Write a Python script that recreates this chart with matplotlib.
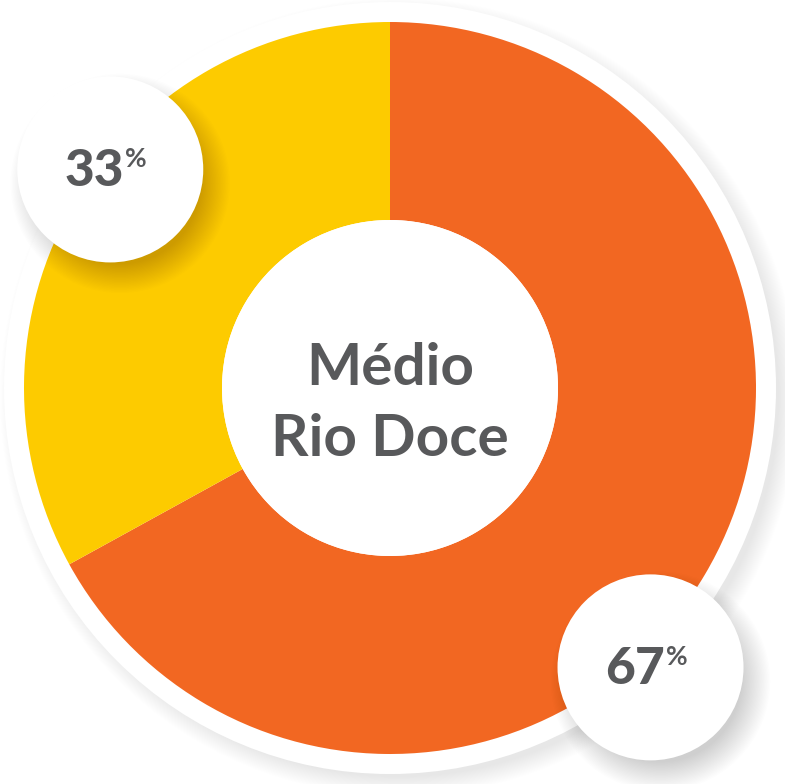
import matplotlib
matplotlib.use("Agg")
import matplotlib.pyplot as plt
from matplotlib.patches import Circle
import numpy as np

# Data
categories = ["Médio Rio Doce - A", "Médio Rio Doce - B"]
values = [67, 33]
labels = ["67", "33"]
colors = ["#F26722", "#FDCB00"]
center_title = "Médio\nRio Doce"

W, H = 785, 784
fig = plt.figure(figsize=(W / 100, H / 100), dpi=100)
ax = fig.add_axes([0, 0, 1, 1])

cx, cy = 390, H - 388
R = 366
R_in = 168
text_color = "#58595B"
font = "Lato"

def shadow(x, y, r, dx, dy, spread, alpha, z, color="black", n=24):
    for i in range(n):
        rr = r + spread * (i / n)
        ax.add_patch(Circle((x + dx, y + dy), rr, facecolor=color,
                            edgecolor="none", alpha=alpha / n, zorder=z))

# big white disc with soft shadow
shadow(cx, cy, R + 14, 9, -9, 20, 0.10, 0)
ax.add_patch(Circle((cx, cy), R + 20, facecolor="white", edgecolor="none", zorder=1))

# donut
wedges, _ = ax.pie(values, colors=colors, startangle=90, counterclock=False,
                   radius=R, center=(cx, cy),
                   wedgeprops=dict(width=R - R_in, edgecolor="none"))
for w in wedges:
    w.set_zorder(2)
ax.set_xlim(0, W)
ax.set_ylim(0, H)
ax.set_aspect("equal")
ax.axis("off")

ax.add_patch(Circle((cx, cy), R_in, facecolor="white", edgecolor="none", zorder=3))
ax.text(cx, cy - 16, center_title, ha="center", va="center", fontsize=42,
        fontfamily=font, fontweight="bold", color=text_color, zorder=6,
        linespacing=1.43)

# label bubbles (angle measured clockwise from top, distance from centre)
bubble_pos = [(137, 382), (308, 355)]
r_b = 93
for lab, (ang, dist) in zip(labels, bubble_pos):
    a = np.deg2rad(ang)
    bx = cx + dist * np.sin(a)
    by = cy + dist * np.cos(a)
    shadow(bx, by, r_b - 12, 10, -14, 30, 0.20, 4)
    ax.add_patch(Circle((bx, by), r_b, facecolor="white", edgecolor="none", zorder=5))
    ax.text(bx + 14, by - 2, lab, ha="right", va="center", fontsize=37,
            fontfamily=font, fontweight="black", color=text_color, zorder=6)
    ax.text(bx + 15, by + 10, "%", ha="left", va="center", fontsize=19,
            fontfamily=font, fontweight="bold", color=text_color, zorder=6)

fig.savefig("out.png", dpi=100, facecolor="white")
